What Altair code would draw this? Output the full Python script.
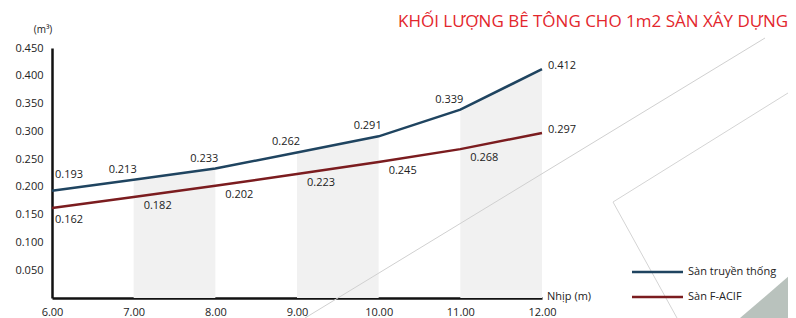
import altair as alt
import pandas as pd

# ---- data ----
span = [6, 7, 8, 9, 10, 11, 12]
traditional = [0.193, 0.213, 0.233, 0.262, 0.291, 0.339, 0.412]
facif = [0.162, 0.182, 0.202, 0.223, 0.245, 0.268, 0.297]
series_names = ["Sàn truyền thống", "Sàn F-ACIF"]
band_pairs = [(7, 8), (9, 10), (11, 12)]
y_ticks = [0.05, 0.10, 0.15, 0.20, 0.25, 0.30, 0.35, 0.40, 0.45]
x_ticks = span
title_text = "KHỐI LƯỢNG BÊ TÔNG CHO 1m2 SÀN XÂY DỰNG"
y_unit = "(m³)"
x_unit = "Nhịp (m)"

BLUE = "#1f4460"
RED = "#7b1c1f"
FONT = "Open Sans"

rows = []
for name, vals in zip(series_names, [traditional, facif]):
    for x, v in zip(span, vals):
        rows.append({"span": x, "value": v, "series": name})
df = pd.DataFrame(rows)

band_rows = []
for i, (a, b) in enumerate(band_pairs):
    for x in (a, b):
        band_rows.append({"span": x, "value": traditional[span.index(x)], "band": f"b{i}"})
bands_df = pd.DataFrame(band_rows)

x_scale = alt.Scale(domain=[6, 12], nice=False)
y_scale = alt.Scale(domain=[0, 0.45], nice=False)
x_axis = alt.Axis(values=x_ticks, format=".2f", title=None, ticks=False, grid=False,
                  domainColor="#111", domainWidth=2.5, labelPadding=8,
                  labelFontSize=11, labelColor="#222", labelFont=FONT,
                  labelFlush=False, labelOverlap=False)
y_axis = alt.Axis(values=y_ticks, format=".3f", title=None, ticks=False, grid=False,
                  domainColor="#111", domainWidth=2.5, labelPadding=9,
                  labelFontSize=11, labelColor="#222", labelFont=FONT,
                  labelOverlap=False, labelBound=False, tickCount=9)
x_enc = alt.X("span:Q", scale=x_scale, axis=x_axis)
y_enc = alt.Y("value:Q", scale=y_scale, axis=y_axis)
color_enc = alt.Color("series:N", scale=alt.Scale(domain=series_names, range=[BLUE, RED]), legend=None)


def single(text):
    return alt.Chart(pd.DataFrame({"t": [text]}))


# decorations
deco_df = pd.DataFrame({"t": [""]})
deco1 = alt.Chart(deco_df).mark_rule(color="#d0d0d0", strokeWidth=1).encode(
    x=alt.value(253), y=alt.value(270), x2=alt.value(713), y2=alt.value(-10))
deco2 = alt.Chart(deco_df).mark_rule(color="#d4d4d4", strokeWidth=1).encode(
    x=alt.value(561), y=alt.value(154), x2=alt.value(744), y2=alt.value(40))
deco3 = alt.Chart(deco_df).mark_rule(color="#d4d4d4", strokeWidth=1).encode(
    x=alt.value(561), y=alt.value(154), x2=alt.value(625), y2=alt.value(270))
tri = alt.Chart(deco_df).mark_point(
    shape="M-1,0.857L1,0.857L1,-0.857Z", filled=True, color="#b9c2bd", opacity=1, size=3136
).encode(x=alt.value(716), y=alt.value(246))

bands = [
    alt.Chart(bands_df).transform_filter(f"datum.band == 'b{i}'").mark_area(
        color="#f1f1f1").encode(x=x_enc, y=y_enc)
    for i in range(len(band_pairs))
]

lines = alt.Chart(df).mark_line(strokeWidth=2.5).encode(x=x_enc, y=y_enc, color=color_enc)


def labels(name, cond, **kw):
    return alt.Chart(df).transform_filter(
        f"datum.series == '{name}' && ({cond})"
    ).mark_text(font=FONT, fontSize=11, color="#222", **kw).encode(
        x=x_enc, y=y_enc, text=alt.Text("value:Q", format=".3f"))


lab = [
    labels(series_names[0], "datum.span > 6 && datum.span < 12", dx=-11, dy=-10),
    labels(series_names[0], "datum.span == 6", dx=17, dy=-16),
    labels(series_names[0], "datum.span == 12", align="left", dx=6, dy=-3),
    labels(series_names[1], "datum.span > 6 && datum.span < 12", dx=24, dy=9),
    labels(series_names[1], "datum.span == 6", dx=17, dy=12),
    labels(series_names[1], "datum.span == 12", align="left", dx=6, dy=-3),
]

title = single(title_text).mark_text(font=FONT, fontSize=17, color="#e3262c").encode(
    text="t:N", x=alt.value(541), y=alt.value(-26))
yunit = single(y_unit).mark_text(font=FONT, fontSize=10, color="#222").encode(
    text="t:N", x=alt.value(-9), y=alt.value(-18))
xunit = single(x_unit).mark_text(font=FONT, fontSize=11, color="#222", align="left").encode(
    text="t:N", x=alt.value(495), y=alt.value(249))

leg_df = pd.DataFrame({"series": series_names})
leg_y = alt.Y("series:N", scale=alt.Scale(type="point", padding=0, domain=series_names,
                                          range=[224, 249]), axis=None)
leg_rules = alt.Chart(leg_df).mark_rule(strokeWidth=2.5).encode(
    x=alt.value(580), x2=alt.value(631), y=leg_y, color=color_enc)
leg_text = alt.Chart(leg_df).mark_text(font=FONT, fontSize=11, color="#222", align="left").encode(
    x=alt.value(636), y=leg_y, text="series:N")

main = alt.layer(tri, *bands, deco1, deco2, deco3, lines, *lab, title, yunit, xunit)
legend = alt.layer(leg_rules, leg_text)

chart = alt.layer(main, legend).resolve_scale(y="independent").properties(
    width=490, height=250,
    autosize=alt.AutoSizeParams(type="none"),
    padding={"left": 44, "top": 40, "right": 246, "bottom": 20},
    background="white",
).configure_view(stroke=None)

chart.save("out.html", embed_options={"renderer": "svg", "actions": False})
